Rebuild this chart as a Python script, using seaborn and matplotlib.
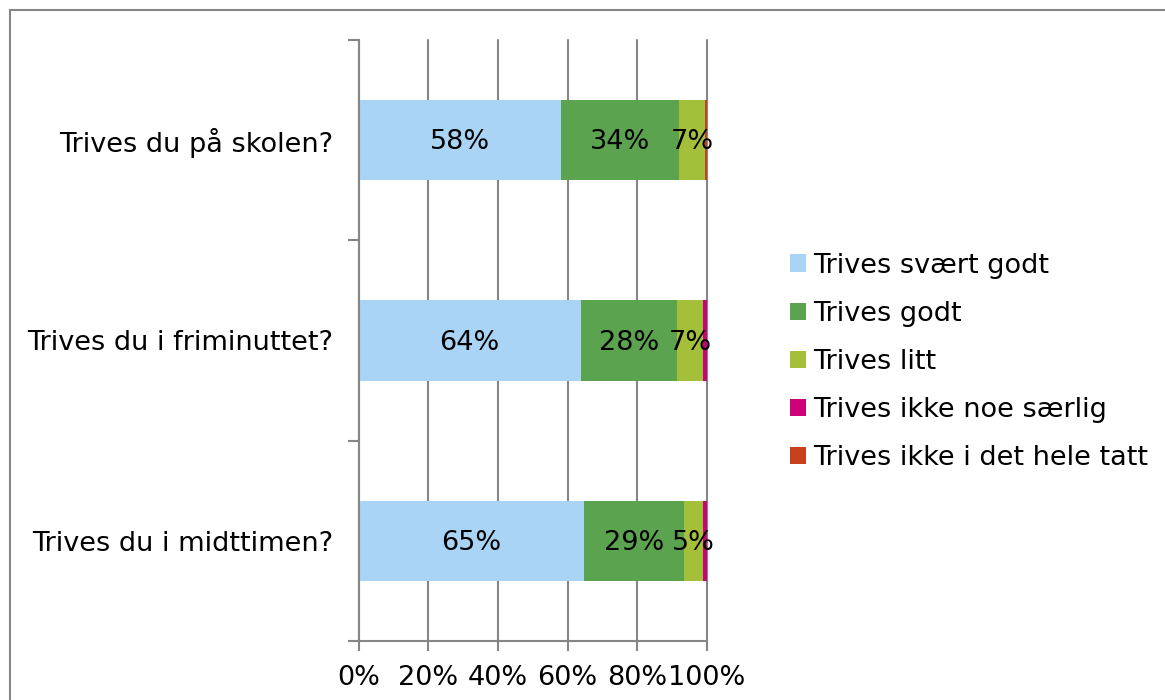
import matplotlib
matplotlib.use("Agg")
import matplotlib.pyplot as plt
from matplotlib.patches import Patch, Rectangle
from matplotlib.ticker import FuncFormatter
import numpy as np
import pandas as pd
import seaborn as sns

# Survey questions (top to bottom) and answer categories
questions = ["Trives du på skolen?", "Trives du i friminuttet?", "Trives du i midttimen?"]
answers = ["Trives svært godt", "Trives godt", "Trives litt",
           "Trives ikke noe særlig", "Trives ikke i det hele tatt"]

# Share of answers (%) per question
svaert_godt = [58.1, 63.8, 64.7]
godt = [34.0, 27.6, 28.7]
litt = [7.2, 7.4, 5.4]
ikke_saerlig = [0.1, 1.2, 1.2]
ikke_i_det_hele_tatt = [0.6, 0.0, 0.0]

colors = ["#a9d4f5", "#5ba34f", "#a4c03a", "#cc0077", "#c8401e"]

series = [svaert_godt, godt, litt, ikke_saerlig, ikke_i_det_hele_tatt]
df = pd.DataFrame({name: vals for name, vals in zip(answers, series)})
df.insert(0, "question", questions)
cum = df[answers].cumsum(axis=1)

sns.set_style("white")
plt.rcParams["font.family"] = ["DejaVu Sans"]
plt.rcParams["text.color"] = "black"
plt.rcParams["xtick.color"] = "#868686"
plt.rcParams["ytick.color"] = "#868686"
plt.rcParams["xtick.labelcolor"] = "black"
plt.rcParams["ytick.labelcolor"] = "black"
FS = 19.5

fig = plt.figure(figsize=(11.65, 7.0), dpi=100)
ax = fig.add_axes([358.5 / 1165, 1 - 641 / 700, (707 - 358.5) / 1165, (641 - 40) / 700])

# Stacked bars: draw cumulative totals from the outermost segment inward
for name, color in reversed(list(zip(answers, colors))):
    sns.barplot(x=cum[name], y=df["question"], orient="h", color=color,
                width=0.4, linewidth=0, saturation=1, ax=ax, zorder=2)

# Value labels centred in each segment
for i, q in enumerate(questions):
    left = 0.0
    for name in answers:
        v = df.loc[i, name]
        if v >= 5:
            ax.text(left + v / 2, i + 0.01, f"{v:.0f}%", ha="center", va="center",
                    fontsize=FS, color="black", zorder=3)
        left += v

ax.set_xlim(0, 100)
ax.set_ylim(2.5, -0.5)
ax.set_xticks([0, 20, 40, 60, 80, 100])
ax.xaxis.set_major_formatter(FuncFormatter(lambda x, p: f"{x:.0f}%"))
ax.set_yticks([-0.5, 0.5, 1.5, 2.5])
ax.set_yticklabels([])
ax.set_yticks([0, 1, 2], questions, minor=True)
ax.tick_params(axis="y", which="major", left=True, length=8, width=1.5,
               color="#868686", direction="out")
ax.tick_params(axis="y", which="minor", left=True, length=0, pad=18.5,
               labelsize=FS, labelcolor="black")
ax.tick_params(axis="x", which="major", bottom=True, length=7, width=1.5,
               color="#868686", direction="out", pad=10.5, labelsize=FS,
               labelcolor="black")
ax.set_xlabel("")
ax.set_ylabel("")

ax.grid(axis="x", color="#868686", linewidth=1.5, zorder=0)
for gl in ax.get_xgridlines():
    gl.set_clip_on(False)
ax.set_axisbelow(True)
for side in ["top", "right"]:
    ax.spines[side].set_visible(False)
for side in ["left", "bottom"]:
    ax.spines[side].set_color("#868686")
    ax.spines[side].set_linewidth(1.5)

handles = [Patch(facecolor=c, edgecolor="none") for c in colors]
fig.legend(handles, answers, loc="center left", bbox_to_anchor=(790 / 1165, 1 - 362 / 700),
           frameon=False, fontsize=FS, handlelength=0.6, handleheight=0.6,
           handletextpad=0.25, labelspacing=0.82, borderpad=0, borderaxespad=0,
           labelcolor="black")

# Chart frame
fig.patches.append(Rectangle((9.5 / 1165, -0.1), 1.2, 1.1 - 10.5 / 700,
                             transform=fig.transFigure, fill=False,
                             edgecolor="#868686", linewidth=1.5))

fig.savefig("out.png", dpi=100)
